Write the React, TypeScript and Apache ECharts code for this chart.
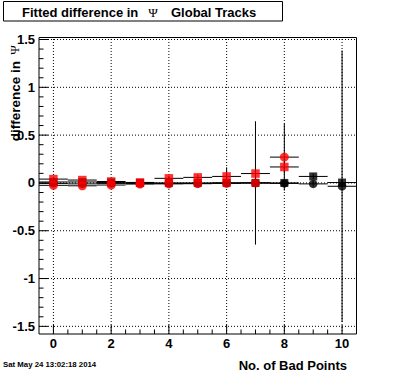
import React, { useEffect, useRef } from "react";
import * as echarts from "echarts";

// ---- data ----
const redSqX = [0, 1, 2, 3, 4, 5, 6, 7, 8];
const redSqY = [0.04, 0.03, 0.015, 0.005, 0.048, 0.058, 0.068, 0.098, 0.167];
const redSqErr = [0.02, 0.02, 0.02, 0.02, 0.025, 0.03, 0.095, 0.05, 0.06];

const redCircX = [0, 1, 2, 3, 4, 5, 6, 7, 8];
const redCircY = [-0.025, -0.03, -0.022, -0.012, -0.01, -0.008, -0.005, 0.0, 0.27];
const redCircErr = [0.02, 0.02, 0.02, 0.02, 0.02, 0.02, 0.03, 0.645, 0.35];

const blackSqX = [0, 1, 2, 3, 4, 5, 6, 7, 8, 9, 10];
const blackSqY = [0.01, 0.01, 0.005, 0.0, 0.0, 0.0, 0.0, 0.0, 0.0, 0.068, 0.004];
const blackSqErr = [0.01, 0.01, 0.01, 0.01, 0.01, 0.01, 0.01, 0.02, 0.02, 0.03, 0.03];

const blackCircX = [0, 1, 2, 3, 4, 5, 6, 7, 8, 9, 10];
const blackCircY = [-0.005, -0.01, -0.005, -0.005, -0.005, -0.005, 0.0, 0.0, -0.005, -0.01, -0.035];
const blackCircErr = [0.01, 0.01, 0.01, 0.01, 0.01, 0.01, 0.01, 0.02, 0.02, 0.03, 1.42];

const xTickValues = [0, 2, 4, 6, 8, 10];
const xTickLabels = ["0", "2", "4", "6", "8", "10"];
const yTickValues = [-1.5, -1, -0.5, 0, 0.5, 1, 1.5];
const yTickLabels = ["-1.5", "-1", "-0.5", "0", "0.5", "1", "1.5"];

const X_MIN = -0.5;
const X_MAX = 10.5;
const Y_MIN = -1.58;
const Y_MAX = 1.521;
const X_MINOR_STEP = 0.5;
const Y_MINOR_STEP = 0.1;

const titleText1 = "Fitted difference in";
const titleSym = "\u03A8";
const titleText2 = "Global Tracks";
const yTitle = "difference in";
const xTitle = "No. of Bad Points";
const dateText = "Sat May 24 13:02:18 2014";

const FONT = '"Liberation Sans", Arial, Helvetica, sans-serif';
const SERIF = '"Liberation Serif", "DejaVu Serif", serif';

function pts(xs: number[], ys: number[], es?: number[]) {
  return xs.map((x, i) => (es ? [x, ys[i], es[i]] : [x, ys[i]]));
}

function txt(text: string, x: number, y: number, align: string, vAlign: string, font: string, extra: any = {}) {
  return {
    type: "text",
    x,
    y,
    ...extra,
    style: {
      text,
      x: 0,
      y: 0,
      align,
      verticalAlign: vAlign,
      textAlign: align,
      textVerticalAlign: vAlign,
      font,
      fill: "#000",
    },
  };
}

function errorSeries(name: string, data: number[][]) {
  return {
    type: "custom",
    name,
    data,
    clip: true,
    silent: true,
    z: 3,
    encode: { x: 0, y: 1 },
    renderItem: (params: any, api: any) => {
      const x = api.value(0);
      const y = api.value(1);
      const e = api.value(2);
      const l = api.coord([x - 0.5, y]);
      const r = api.coord([x + 0.5, y]);
      const t = api.coord([x, y + e]);
      const b = api.coord([x, y - e]);
      const st = { stroke: "#000", lineWidth: 1 };
      return {
        type: "group",
        children: [
          { type: "line", shape: { x1: l[0], y1: l[1], x2: r[0], y2: r[1] }, style: st },
          { type: "line", shape: { x1: t[0], y1: t[1], x2: b[0], y2: b[1] }, style: st },
        ],
      };
    },
  };
}

function axesSeries() {
  return {
    type: "custom",
    name: "axes",
    data: [[0, 0]],
    clip: false,
    silent: true,
    z: 1,
    encode: { x: 0, y: 1 },
    renderItem: (params: any, api: any) => {
      const children: any[] = [];
      const dotted = { stroke: "#000", lineWidth: 1, lineDash: [1, 2] };
      const solid = { stroke: "#000", lineWidth: 1 };
      const yb = api.coord([X_MIN, Y_MIN])[1];
      const yt = api.coord([X_MIN, Y_MAX])[1];
      const xl = api.coord([X_MIN, Y_MIN])[0];
      const xr = api.coord([X_MAX, Y_MIN])[0];
      const MAJ = 9;
      const MIN = 4.5;
      xTickValues.forEach((v, i) => {
        const px = api.coord([v, Y_MIN])[0];
        children.push({ type: "line", shape: { x1: px, y1: yb, x2: px, y2: yt }, style: dotted });
        children.push({ type: "line", shape: { x1: px, y1: yb, x2: px, y2: yb - MAJ }, style: solid });
        children.push(txt(xTickLabels[i], px, yb + 9.5, "center", "middle", `bold 13px ${FONT}`));
      });
      for (let v = X_MIN + X_MINOR_STEP; v < X_MAX - 1e-9; v += X_MINOR_STEP) {
        if (xTickValues.some((m) => Math.abs(m - v) < 1e-6)) continue;
        const px = api.coord([v, Y_MIN])[0];
        children.push({ type: "line", shape: { x1: px, y1: yb, x2: px, y2: yb - MIN }, style: solid });
      }
      yTickValues.forEach((v, i) => {
        const py = api.coord([X_MIN, v])[1];
        children.push({ type: "line", shape: { x1: xl, y1: py, x2: xr, y2: py }, style: dotted });
        children.push({ type: "line", shape: { x1: xl, y1: py, x2: xl + MAJ, y2: py }, style: solid });
        children.push(txt(yTickLabels[i], xl - 4, py, "right", "middle", `bold 13px ${FONT}`));
      });
      for (let k = Math.ceil(Y_MIN / Y_MINOR_STEP); k <= Math.floor(Y_MAX / Y_MINOR_STEP); k++) {
        const v = k * Y_MINOR_STEP;
        if (yTickValues.some((m) => Math.abs(m - v) < 1e-6)) continue;
        const py = api.coord([X_MIN, v])[1];
        children.push({ type: "line", shape: { x1: xl, y1: py, x2: xl + MIN, y2: py }, style: solid });
      }
      return { type: "group", children };
    },
  };
}

export default function App() {
  const ref = useRef<HTMLDivElement>(null);
  useEffect(() => {
    if (!ref.current) return;
    const chart = echarts.init(ref.current, undefined, { renderer: "svg" });
    const option: any = {
      animation: false,
      backgroundColor: "#fff",
      grid: {
        show: true,
        left: 39,
        top: 37.5,
        width: 317.5,
        height: 296.5,
        borderColor: "#000",
        borderWidth: 1,
        backgroundColor: "transparent",
        containLabel: false,
      },
      xAxis: {
        type: "value",
        min: X_MIN,
        max: X_MAX,
        axisLine: { show: false },
        axisTick: { show: false },
        axisLabel: { show: false },
        splitLine: { show: false },
      },
      yAxis: {
        type: "value",
        min: Y_MIN,
        max: Y_MAX,
        axisLine: { show: false },
        axisTick: { show: false },
        axisLabel: { show: false },
        splitLine: { show: false },
      },
      series: [
        axesSeries(),
        errorSeries("bsqErr", pts(blackSqX, blackSqY, blackSqErr)),
        errorSeries("bcErr", pts(blackCircX, blackCircY, blackCircErr)),
        errorSeries("rsqErr", pts(redSqX, redSqY, redSqErr)),
        errorSeries("rcErr", pts(redCircX, redCircY, redCircErr)),
        {
          type: "scatter",
          name: "blackCirc",
          data: pts(blackCircX, blackCircY),
          symbol: "circle",
          symbolSize: 8.5,
          itemStyle: { color: "#000" },
          z: 4,
          silent: true,
        },
        {
          type: "scatter",
          name: "blackSq",
          data: pts(blackSqX, blackSqY),
          symbol: "rect",
          symbolSize: 8,
          itemStyle: { color: "#000" },
          z: 5,
          silent: true,
        },
        {
          type: "scatter",
          name: "redSq",
          data: pts(redSqX, redSqY),
          symbol: "rect",
          symbolSize: 8.5,
          itemStyle: { color: "#ff0000" },
          z: 6,
          silent: true,
        },
        {
          type: "scatter",
          name: "redCirc",
          data: pts(redCircX, redCircY),
          symbol: "circle",
          symbolSize: 9,
          itemStyle: { color: "#ff0000" },
          z: 7,
          silent: true,
        },
      ],
      graphic: [
        {
          type: "rect",
          shape: { x: 3.5, y: 1.5, width: 279, height: 19.5 },
          style: { fill: "#fff", stroke: "#000", lineWidth: 1 },
          silent: true,
        },
        txt(titleText1, 22, 12, "left", "middle", `bold 13px ${FONT}`),
        txt(titleSym, 153, 12, "center", "middle", `13px ${SERIF}`),
        txt(titleText2, 171, 12, "left", "middle", `bold 13px ${FONT}`),
        txt(yTitle, 15, 61, "right", "middle", `bold 13.5px ${FONT}`, { rotation: Math.PI / 2 }),
        txt(titleSym, 14.5, 50, "center", "middle", `13px ${SERIF}`, { rotation: Math.PI / 2 }),
        txt(xTitle, 347, 365.5, "right", "middle", `bold 13px ${FONT}`),
        txt(dateText, 3, 364.5, "left", "middle", `bold 7.8px ${FONT}`),
      ],
    };
    chart.setOption(option);
    return () => chart.dispose();
  }, []);
  return (
    <div
      ref={ref}
      style={{ position: "fixed", left: 0, top: 0, width: 396, height: 372, background: "#fff" }}
    />
  );
}
